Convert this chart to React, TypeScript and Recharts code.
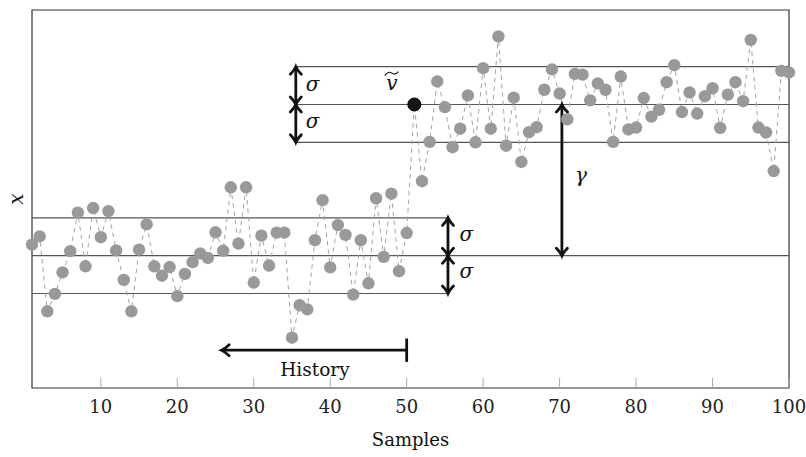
import React from 'react';
import {
  ComposedChart,
  Line,
  XAxis,
  YAxis,
  ReferenceLine,
  ReferenceArea,
  ReferenceDot,
} from 'recharts';

// samples 1..50 (before the change) and 51..100 (after), in units of sigma
const beforeChange = [
  0.29, 0.51, -1.47, -1.01, -0.44, 0.12, 1.14, -0.28, 1.26, 0.49,
  1.18, 0.14, -0.64, -1.47, 0.16, 0.83, -0.28, -0.53, -0.3, -1.07,
  -0.48, -0.17, 0.06, -0.06, 0.62, 0.13, 1.81, 0.32, 1.81, -0.71,
  0.53, -0.26, 0.61, 0.61, -2.17, -1.31, -1.42, 0.41, 1.47, -0.31,
  0.81, 0.55, -1.03, 0.41, -0.73, 1.52, -0.03, 1.64, -0.41, 0.6,
];
const afterChange = [
  4.0, 1.97, 3.01, 4.61, 3.93, 2.87, 3.36, 4.24, 3.0, 4.96,
  3.36, 5.8, 2.91, 4.18, 2.48, 3.27, 3.4, 4.39, 4.93, 4.29,
  3.61, 4.81, 4.79, 4.11, 4.56, 4.39, 3.01, 4.74, 3.34, 3.39,
  4.17, 3.68, 3.86, 4.59, 5.04, 3.8, 4.32, 3.76, 4.22, 4.43,
  3.38, 4.26, 4.59, 4.09, 5.71, 3.39, 3.26, 2.24, 4.89, 4.85,
];
const xTicks = [10, 20, 30, 40, 50, 60, 70, 80, 90, 100];
const lowerLevels = [-1, 0, 1];
const upperLevels = [3, 4, 5];
const changePoint = 51;

const data = [...beforeChange, ...afterChange].map((v, i) => ({ n: i + 1, v }));

const FONT = 'DejaVu Serif';
const INK = '#111';
const serif = { fontFamily: FONT };

const chevron = (tx: number, ty: number, dx: number, dy: number) => {
  const back = 7.5;
  const half = 5.5;
  const nx = -dy;
  const ny = dx;
  const bx = tx - dx * back;
  const by = ty - dy * back;
  const c = (s: number) =>
    `${tx - dx * back * 0.45 + nx * half * 0.25 * s},${ty - dy * back * 0.45 + ny * half * 0.25 * s}`;
  return `M${bx + nx * half},${by + ny * half} Q${c(1)} ${tx},${ty} Q${c(-1)} ${bx - nx * half},${by - ny * half}`;
};

const arrow = (startHead: boolean, endHead: boolean) => (p: any) => {
  const { x1, y1, x2, y2 } = p;
  const len = Math.hypot(x2 - x1, y2 - y1) || 1;
  const ux = (x2 - x1) / len;
  const uy = (y2 - y1) / len;
  return (
    <g fill="none" stroke={INK} strokeWidth={2.8}>
      <line x1={x1} y1={y1} x2={x2} y2={y2} />
      {startHead && <path d={chevron(x1, y1, -ux, -uy)} strokeLinecap="round" />}
      {endHead && <path d={chevron(x2, y2, ux, uy)} strokeLinecap="round" />}
    </g>
  );
};

const note = (txt: string, italic = true, size = 20) => (p: any) => (
  <text
    x={p.cx}
    y={p.cy}
    textAnchor="middle"
    style={{ ...serif, fontSize: size, fontStyle: italic ? 'italic' : 'normal' }}
    fill={INK}
  >
    {txt}
  </text>
);

const tildeV = (p: any) => (
  <g>
    <text x={p.cx} y={p.cy} textAnchor="middle" style={{ ...serif, fontSize: 20, fontStyle: 'italic' }} fill={INK}>
      v
    </text>
    <path
      d={`M${p.cx - 7},${p.cy - 14.5} Q${p.cx - 3.5},${p.cy - 19.5} ${p.cx},${p.cy - 17} T${p.cx + 6.5},${p.cy - 18.5}`}
      fill="none"
      stroke={INK}
      strokeWidth={1.1}
    />
  </g>
);

const BottomTick = ({ x, y, payload }: any) => (
  <g>
    <line x1={x} x2={x} y1={y} y2={y - 10} stroke="#aaa" strokeWidth={1} />
    <text x={x} y={y + 25} textAnchor="middle" style={{ ...serif, fontSize: 18 }} fill="#222">
      {payload.value}
    </text>
  </g>
);

const TopTick = ({ x, y }: any) => (
  <line x1={x} x2={x} y1={y} y2={y + 10} stroke="#aaa" strokeWidth={1} />
);

const YLabel = (props: any) => {
  const vb = props.viewBox || {};
  const cy = vb.y != null ? vb.y + vb.height / 2 : 199;
  return (
    <text
      x={16}
      y={cy}
      transform={`rotate(-90 16 ${cy})`}
      textAnchor="middle"
      dominantBaseline="central"
      style={{ ...serif, fontSize: 20, fontStyle: 'italic' }}
      fill={INK}
    >
      x
    </text>
  );
};

const XLabel = (props: any) => {
  const vb = props.viewBox || {};
  const cx = vb.x != null ? vb.x + vb.width / 2 : 410;
  return (
    <text x={cx} y={446} textAnchor="middle" style={{ ...serif, fontSize: 18 }} fill={INK}>
      Samples
    </text>
  );
};

export default function App() {
  const bandStroke = '#555';
  return (
    <div style={{ position: 'absolute', left: 0, top: 0, width: 806, height: 457, background: '#fff' }}>
      <ComposedChart width={806} height={457} data={data} margin={{ top: 10, right: 17, bottom: 0, left: 0 }}>
        <XAxis
          dataKey="n"
          type="number"
          domain={[1, 100]}
          ticks={xTicks}
          interval={0}
          height={69}
          tickSize={0}
          tickMargin={0}
          axisLine={false}
          tick={<BottomTick />}
          label={<XLabel />}
        />
        <XAxis
          xAxisId="top"
          orientation="top"
          dataKey="n"
          type="number"
          domain={[1, 100]}
          ticks={xTicks}
          interval={0}
          height={0}
          tickSize={0}
          tickMargin={0}
          axisLine={false}
          tick={<TopTick />}
        />
        <YAxis
          type="number"
          domain={[-3.5, 6.5]}
          allowDataOverflow
          width={32}
          tick={false}
          tickLine={false}
          axisLine={false}
          label={<YLabel />}
        />

        {/* lower band: -sigma, centre, +sigma (centre spans the whole plot) */}
        {lowerLevels.map((lv) =>
          lv === 0 ? (
            <ReferenceLine key={`lo${lv}`} y={lv} stroke={bandStroke} strokeWidth={1.2} />
          ) : (
            <ReferenceLine
              key={`lo${lv}`}
              segment={[{ x: 1, y: lv }, { x: 55.4, y: lv }]}
              stroke={bandStroke}
              strokeWidth={1.2}
            />
          )
        )}
        {upperLevels.map((lv) => (
          <ReferenceLine
            key={`up${lv}`}
            segment={[{ x: 35.5, y: lv }, { x: 100, y: lv }]}
            stroke={bandStroke}
            strokeWidth={1.2}
          />
        ))}

        <Line
          type="linear"
          dataKey="v"
          stroke="#a3a3a3"
          strokeWidth={1}
          strokeDasharray="4.5 4"
          dot={{ r: 6.2, fill: '#999', stroke: 'none' }}
          isAnimationActive={false}
        />
        <ReferenceDot x={changePoint} y={afterChange[0]} r={6.5} fill="#151515" stroke="#000" strokeWidth={1} />

        {/* sigma arrows */}
        <ReferenceLine segment={[{ x: 55.4, y: 1 }, { x: 55.4, y: 0 }]} shape={arrow(true, true)} />
        <ReferenceLine segment={[{ x: 55.4, y: 0 }, { x: 55.4, y: -1 }]} shape={arrow(true, true)} />
        <ReferenceLine segment={[{ x: 35.5, y: 5 }, { x: 35.5, y: 4 }]} shape={arrow(true, true)} />
        <ReferenceLine segment={[{ x: 35.5, y: 4 }, { x: 35.5, y: 3 }]} shape={arrow(true, true)} />
        {/* gamma */}
        <ReferenceLine segment={[{ x: 70.3, y: 0 }, { x: 70.3, y: 4 }]} shape={arrow(true, true)} />
        {/* history */}
        <ReferenceLine segment={[{ x: 50, y: -2.5 }, { x: 25.8, y: -2.5 }]} shape={arrow(false, true)} />
        <ReferenceLine segment={[{ x: 50, y: -2.19 }, { x: 50, y: -2.81 }]} stroke={INK} strokeWidth={2.8} />

        <ReferenceDot x={37.7} y={4.37} r={0} shape={note('σ')} />
        <ReferenceDot x={37.7} y={3.39} r={0} shape={note('σ')} />
        <ReferenceDot x={57.8} y={0.39} r={0} shape={note('σ')} />
        <ReferenceDot x={57.8} y={-0.6} r={0} shape={note('σ')} />
        <ReferenceDot x={72.8} y={1.95} r={0} shape={note('γ')} />
        <ReferenceDot x={48.06} y={4.38} r={0} shape={tildeV} />
        <ReferenceDot x={38.0} y={-3.17} r={0} shape={note('History', false, 18.5)} />

        <ReferenceArea x1={1} x2={100} y1={-3.5} y2={6.5} fill="none" fillOpacity={0} stroke="#333" strokeWidth={1.2} />
      </ComposedChart>
    </div>
  );
}
